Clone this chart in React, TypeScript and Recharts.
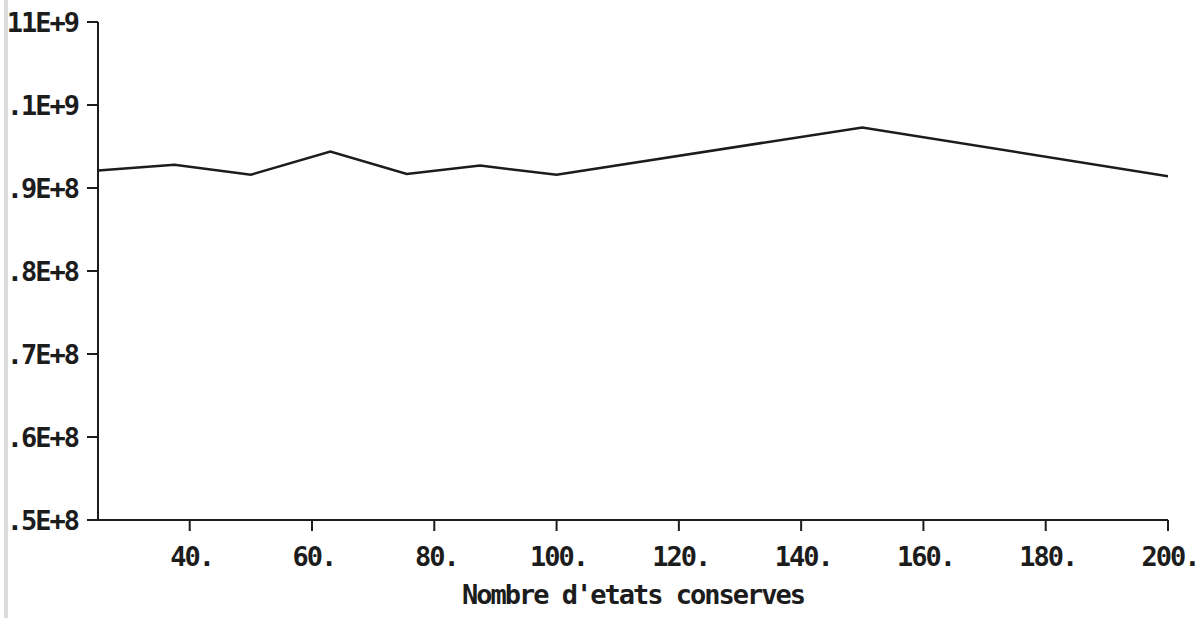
import React from 'react';
import { LineChart, Line, XAxis, YAxis } from 'recharts';

// number of retained states (x) and criterion value (y)
const stateCounts = [25, 37.5, 50, 63, 75.5, 87.5, 100, 150, 200];
const criterionValues = [9.21e8, 9.28e8, 9.16e8, 9.44e8, 9.17e8, 9.27e8, 9.16e8, 9.73e8, 9.14e8];

const xTicks = [40, 60, 80, 100, 120, 140, 160, 180, 200];
const xTickLabels = ['40.', '60.', '80.', '100.', '120.', '140.', '160.', '180.', '200.'];

const yTicks = [5e8, 6e8, 7e8, 8e8, 9e8, 1e9, 1.1e9];
const yTickLabels = ['.5E+8', '.6E+8', '.7E+8', '.8E+8', '.9E+8', '.1E+9', '11E+9'];

const data = stateCounts.map((n, i) => ({ n, value: criterionValues[i] }));

const INK = '#1c1c1c';
const FONT = '"DejaVu Sans Mono", monospace';

const textStyle = {
  fontFamily: FONT,
  fontSize: 27,
  fontWeight: 'bold' as const,
  letterSpacing: -2,
  fill: INK,
};

const XTick = (props: any) => {
  const { x, y, payload } = props;
  const idx = xTicks.indexOf(payload.value);
  return (
    <text x={x + 2} y={y + 32} textAnchor="middle" style={textStyle}>
      {xTickLabels[idx] ?? payload.value}
    </text>
  );
};

const YTick = (props: any) => {
  const { x, y, payload } = props;
  const idx = yTicks.indexOf(payload.value);
  return (
    <text x={x} y={y + 10} textAnchor="end" style={textStyle}>
      {yTickLabels[idx] ?? payload.value}
    </text>
  );
};

export default function App() {
  return (
    <div style={{ position: 'absolute', left: 0, top: 0, width: 1204, height: 618, background: '#fff' }}>
      {/* scanner edge on the left */}
      <div style={{ position: 'absolute', left: 4, top: 0, width: 4, height: 618, background: '#dcdcdc' }} />
      <LineChart
        width={1204}
        height={618}
        data={data}
        margin={{ top: 22, right: 36, left: 8, bottom: 38 }}
      >
        <XAxis
          dataKey="n"
          type="number"
          domain={[25, 200]}
          ticks={xTicks}
          allowDataOverflow
          height={60}
          tickSize={11}
          tickMargin={3}
          tick={<XTick />}
          axisLine={{ stroke: INK, strokeWidth: 2 }}
          tickLine={{ stroke: INK, strokeWidth: 2 }}
          label={{
            value: "Nombre d'etats conserves",
            position: 'bottom',
            offset: 5,
            style: { ...textStyle },
          }}
        />
        <YAxis
          type="number"
          domain={[5e8, 1.1e9]}
          ticks={yTicks}
          allowDataOverflow
          width={90}
          tickSize={11}
          tickMargin={9}
          tick={<YTick />}
          axisLine={{ stroke: INK, strokeWidth: 2 }}
          tickLine={{ stroke: INK, strokeWidth: 2 }}
        />
        <Line
          type="linear"
          dataKey="value"
          stroke={INK}
          strokeWidth={2.5}
          dot={false}
          isAnimationActive={false}
        />
      </LineChart>
    </div>
  );
}
